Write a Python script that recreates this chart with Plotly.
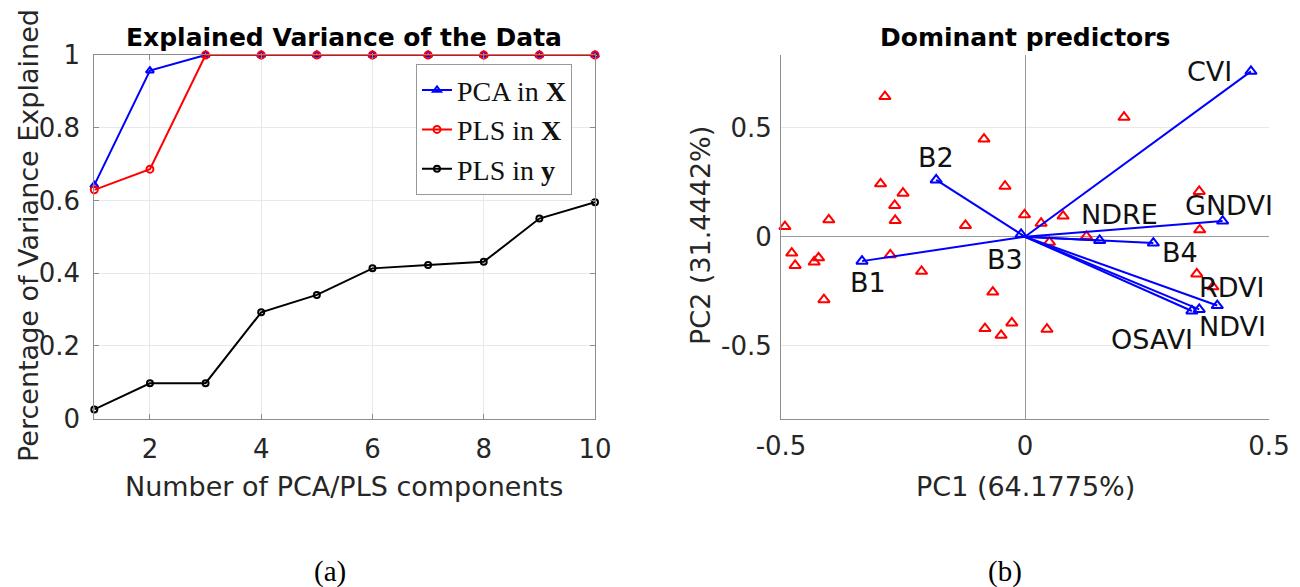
import plotly.graph_objects as go

# ---------------- data: panel (a) ----------------
n_components = [1, 2, 3, 4, 5, 6, 7, 8, 9, 10]
pca_in_X = [0.642, 0.957, 1.0, 1.0, 1.0, 1.0, 1.0, 1.0, 1.0, 1.0]
pls_in_X = [0.629, 0.686, 1.0, 1.0, 1.0, 1.0, 1.0, 1.0, 1.0, 1.0]
pls_in_y = [0.025, 0.097, 0.097, 0.292, 0.340, 0.413, 0.422, 0.431, 0.550, 0.595]
x_ticks_a = [2, 4, 6, 8, 10]
y_ticks_a = [0, 0.2, 0.4, 0.6, 0.8, 1]
y_ticklabels_a = ["0", "0.2", "0.4", "0.6", "0.8", "1"]

# ---------------- data: panel (b) ----------------
predictors = ["B1", "B2", "B3", "B4", "NDRE", "GNDVI", "CVI", "RDVI", "NDVI", "OSAVI"]
coef_pc1 = [-0.334, -0.182, -0.008, 0.263, 0.153, 0.405, 0.463, 0.394, 0.357, 0.342]
coef_pc2 = [-0.112, 0.261, 0.011, -0.029, -0.017, 0.072, 0.760, -0.316, -0.334, -0.341]

obs_pc1 = [-0.287, -0.492, -0.402, -0.296, -0.250, -0.267, -0.266, 0.203, -0.084, -0.041,
           -0.001, 0.033, 0.078, -0.122, 0.126, -0.478, -0.471, -0.432, -0.423, -0.412,
           -0.276, -0.212, 0.050, -0.066, -0.082, -0.049, -0.027, 0.045, 0.357, 0.358,
           0.352, 0.385]
obs_pc2 = [0.644, 0.047, 0.078, 0.243, 0.200, 0.144, 0.075, 0.549, 0.449, 0.232,
           0.101, 0.062, 0.095, 0.052, 0.002, -0.075, -0.132, -0.116, -0.097, -0.289,
           -0.083, -0.159, -0.025, -0.254, -0.422, -0.453, -0.396, -0.425, 0.208, 0.032,
           -0.171, -0.230]
ticks_b = [-0.5, 0, 0.5]
ticklabels_b = ["-0.5", "0", "0.5"]

# label offsets (pixels) of predictor names relative to vector tips
label_shift = {
    "B1": (6, -21), "B2": (0, 22), "B3": (-16, -25), "B4": (27, -9),
    "NDRE": (20, 26), "GNDVI": (6, 16), "CVI": (-41, 0), "RDVI": (15, 18),
    "NDVI": (33, -17), "OSAVI": (-40, -29),
}

# page body has an 8px margin: figure is drawn at (8, 8) in the window
OFF = 8
W, H = 1300 - OFF, 587 - OFF
SANS = "DejaVu Sans"
SERIF = "Liberation Serif"
TXT = "#262626"
AXC = "#8c8c8c"
GRID = "#e8e8e8"
BLUE = "#0000ff"
RED = "#ff0000"


def px(xp, yp):
    return (xp - OFF) / W, 1 - (yp - OFF) / H


fig = go.Figure()

# panel (a)
fig.add_trace(go.Scatter(x=n_components, y=pca_in_X, mode="lines+markers", name="PCA in <b>X</b>",
                         line=dict(color=BLUE, width=2),
                         marker=dict(symbol="triangle-up-open", size=7, color=BLUE, line=dict(width=2)),
                         xaxis="x", yaxis="y", cliponaxis=False))
fig.add_trace(go.Scatter(x=n_components, y=pls_in_X, mode="lines+markers", name="PLS in <b>X</b>",
                         line=dict(color=RED, width=2),
                         marker=dict(symbol="circle-open", size=7, color=RED, line=dict(width=2)),
                         xaxis="x", yaxis="y", cliponaxis=False))
fig.add_trace(go.Scatter(x=n_components, y=pls_in_y, mode="lines+markers", name="PLS in <b>y</b>",
                         line=dict(color="#000000", width=2),
                         marker=dict(symbol="circle-open", size=6, color="#000000", line=dict(width=2)),
                         xaxis="x", yaxis="y", cliponaxis=False))

# panel (b): observations
fig.add_trace(go.Scatter(x=obs_pc1, y=obs_pc2, mode="markers", showlegend=False,
                         marker=dict(symbol="triangle-up-open", size=10, color=RED, line=dict(width=2)),
                         xaxis="x2", yaxis="y2", cliponaxis=False))

# panel (b): loading vectors
vx, vy = [], []
for a, b in zip(coef_pc1, coef_pc2):
    vx += [0, a, None]
    vy += [0, b, None]
fig.add_trace(go.Scatter(x=vx, y=vy, mode="lines", showlegend=False,
                         line=dict(color=BLUE, width=2),
                         xaxis="x2", yaxis="y2"))
fig.add_trace(go.Scatter(x=coef_pc1, y=coef_pc2, mode="markers", showlegend=False,
                         marker=dict(symbol="triangle-up-open", size=10, color=BLUE, line=dict(width=2)),
                         xaxis="x2", yaxis="y2", cliponaxis=False))

annotations = []
for name, a, b in zip(predictors, coef_pc1, coef_pc2):
    dx, dy = label_shift[name]
    annotations.append(dict(x=a, y=b, xref="x2", yref="y2", text=name, showarrow=False,
                            xshift=dx, yshift=dy, xanchor="center", yanchor="middle",
                            font=dict(family=SANS, size=27, color="#111111")))


def add_text(text, xp, yp, size, family=SANS, angle=0, color=TXT):
    x, y = px(xp, yp)
    annotations.append(dict(x=x, y=y, xref="paper", yref="paper", text=text, showarrow=False,
                            xanchor="center", yanchor="middle", textangle=angle,
                            font=dict(family=family, size=size, color=color)))


add_text("<b>Explained Variance of the Data</b>", 344, 38, 25, color="#000000")
add_text("<b>Dominant predictors</b>", 1025, 38, 25, color="#000000")
add_text("Number of PCA/PLS components", 344, 486, 27)
add_text("Percentage of Variance Explained", 28, 236, 27, angle=-90)
add_text("PC1 (64.1775%)", 1025, 486, 27)
add_text("PC2 (31.4442%)", 700, 236, 27, angle=-90)
add_text("(a)", 330, 571, 29, family=SERIF, color="#000000")
add_text("(b)", 1005, 571, 29, family=SERIF, color="#000000")

xa0, ya0 = px(94.3, 418.5)
xa1, ya1 = px(595, 55)
xb0, _ = px(781, 418.5)
xb1, _ = px(1269, 55)
lx, ly = px(494, 64.3)

tickfont = dict(family=SANS, size=26, color=TXT)

fig.update_layout(
    width=W, height=H,
    margin=dict(l=0, r=0, t=0, b=0, autoexpand=False),
    paper_bgcolor="white", plot_bgcolor="white",
    showlegend=True,
    legend=dict(x=lx, y=ly, xanchor="center", yanchor="top",
                bgcolor="white", bordercolor="#999999", borderwidth=1,
                font=dict(family=SERIF, size=28, color="#111111"),
                itemwidth=30, tracegroupgap=0),
    xaxis=dict(domain=[xa0, xa1], range=[1, 10], tickvals=x_ticks_a, anchor="y",
               showline=True, linecolor=AXC, linewidth=1, mirror="ticks",
               ticks="inside", ticklen=5, tickcolor=AXC, automargin=False,
               showgrid=True, gridcolor=GRID, zeroline=False,
               tickfont=tickfont, ticklabelstandoff=7),
    yaxis=dict(domain=[ya0, ya1], range=[0, 1], tickvals=y_ticks_a, ticktext=y_ticklabels_a,
               anchor="x", showline=True, linecolor=AXC, linewidth=1, mirror="ticks",
               ticks="inside", ticklen=5, tickcolor=AXC, automargin=False,
               showgrid=True, gridcolor=GRID, zeroline=False,
               tickfont=tickfont, ticklabelstandoff=8),
    xaxis2=dict(domain=[xb0, xb1], range=[-0.5, 0.5], tickvals=ticks_b, ticktext=ticklabels_b,
                anchor="y2", showline=True, linecolor=AXC, linewidth=1, mirror=False,
                ticks="", showgrid=True, gridcolor=GRID, automargin=False,
                zeroline=True, zerolinecolor="#999999", zerolinewidth=1,
                tickfont=tickfont, ticklabelstandoff=4),
    yaxis2=dict(domain=[ya0, ya1], range=[-0.835, 0.835], tickvals=ticks_b, ticktext=ticklabels_b,
                anchor="x2", showline=True, linecolor=AXC, linewidth=1, mirror=False,
                ticks="", showgrid=True, gridcolor=GRID, automargin=False,
                zeroline=True, zerolinecolor="#999999", zerolinewidth=1,
                tickfont=tickfont, ticklabelstandoff=3),
    annotations=annotations,
)

fig.write_html("out.html")
